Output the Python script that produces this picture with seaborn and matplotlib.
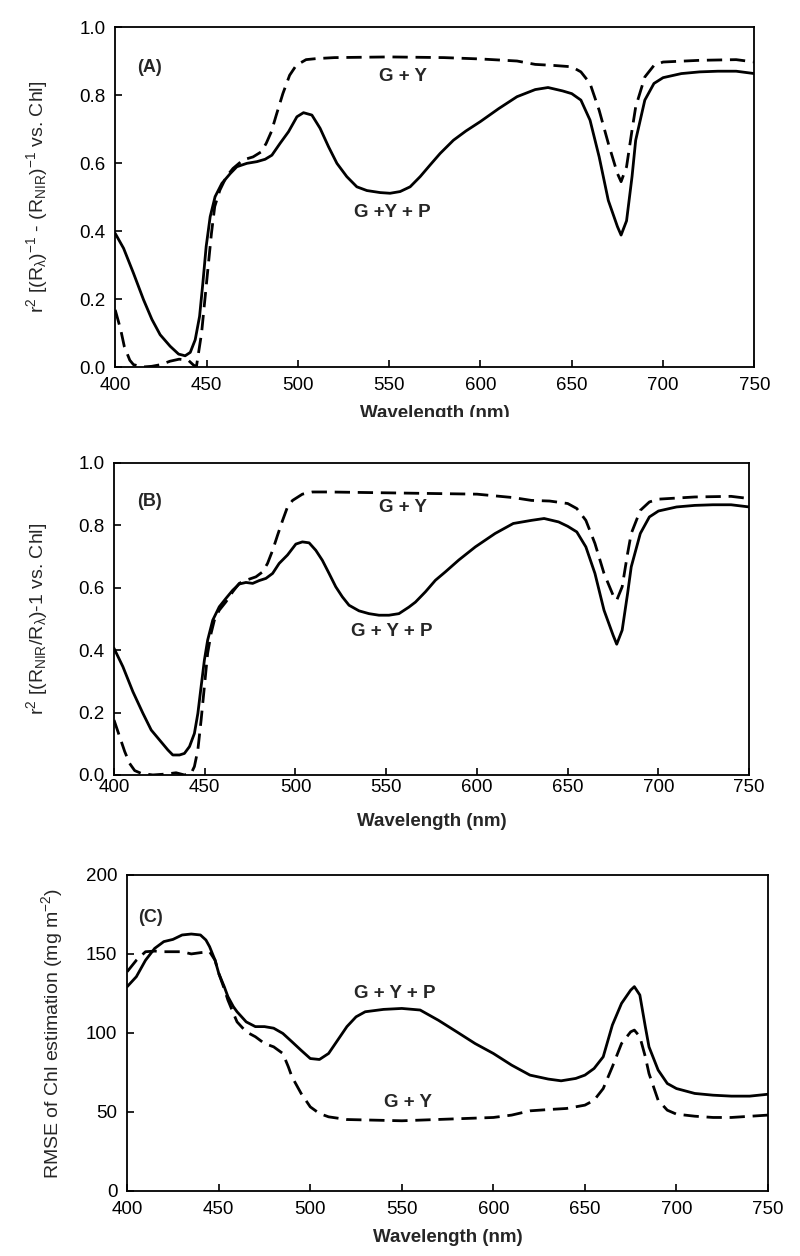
import numpy as np
import pandas as pd
import matplotlib
matplotlib.use("Agg")
import matplotlib.pyplot as plt
from matplotlib.transforms import Bbox, TransformedBbox
import seaborn as sns

# ---- data ----
# Panel A: r2 of (R_lambda)^-1 - (R_NIR)^-1 vs Chl
wl_a_gyp = [400, 404.6, 410, 415.5, 420.1, 424.6, 430.1, 434.7, 438.3, 441.1, 443.8, 446.2, 448,
            449.8, 452, 454.7, 458.4, 463, 466.6, 472.1, 477.6, 482.1, 485.8, 490.3, 494.9, 499.5,
            503.1, 507.7, 512.2, 516.8, 521.4, 526.8, 532.3, 537.8, 545.1, 550.5, 556, 561.5, 567,
            572.4, 577.9, 585.2, 592, 600, 610, 620, 630, 637, 645, 650, 655, 660, 665, 670, 675,
            677, 680, 683, 685, 690, 695, 700, 710, 720, 730, 740, 750]
r2_a_gyp = [.393, .349, .276, .198, .14, .095, .061, .038, .033, .043, .08, .149, .247,
            .354, .442, .501, .54, .569, .589, .599, .604, .611, .623, .658, .692, .736,
            .748, .741, .702, .648, .599, .56, .53, .519, .513, .511, .516, .53, .56,
            .594, .628, .667, .694, .722, .76, .795, .816, .822, .812, .804, .785, .726, .618, .49,
            .413, .388, .43, .56, .667, .785, .834, .851, .863, .868, .87, .87, .863]
wl_a_gy = [400, 403, 405, 408, 410, 415, 420, 425, 430, 435, 440, 443, 444.5, 447.3, 449.1,
           450.9, 452.7, 454.5, 457.3, 460.9, 464.5, 470, 475.5, 480, 482.7, 485.5, 488.2,
           491.8, 495.5, 499.1, 504.5, 510, 520, 550, 580, 600, 620, 630, 640, 650, 655, 660,
           665, 670, 675, 677, 680, 683, 685, 690, 695, 700, 720, 740, 750]
r2_a_gy = [.168, .11, .06, .02, .007, 0.0, .002, .007, .017, .023, .02, .005, .002, .1, .198,
           .296, .393, .472, .52, .56, .584, .609, .618, .633, .658, .692, .741,
           .804, .858, .887, .904, .907, .91, .912, .91, .906, .9, .89, .887, .883, .868, .834,
           .755, .658, .569, .545, .589, .697, .765, .853, .887, .897, .902, .904, .897]

# Panel B: r2 of (R_NIR/R_lambda)-1 vs Chl
wl_b_gyp = [400, 404.9, 410.4, 415.9, 420.5, 425.1, 429.7, 432.4, 436.1, 438.8, 441.6, 444.3,
            446.2, 448, 449.8, 451.6, 454.4, 458, 461.7, 465.4, 469, 472.7, 476.4, 480, 483.7,
            487.4, 491, 495.6, 500.2, 503.8, 507.5, 511.2, 514.8, 518.5, 522.2, 525.8, 529.5,
            535, 540.5, 546, 551.5, 557, 562.5, 566.1, 571.6, 577.1, 582.6, 590, 599.1, 610, 620,
            630, 637, 645, 650, 655, 660, 665, 670, 675, 677, 680, 683, 685, 690, 695, 700, 710,
            720, 730, 740, 750]
r2_b_gyp = [.406, .347, .267, .198, .144, .112, .08, .064, .064, .069, .091, .133,
            .197, .283, .368, .432, .496, .539, .566, .592, .612, .617, .614, .623, .63,
            .646, .678, .705, .74, .747, .744, .72, .688, .646, .603, .571, .544,
            .526, .517, .512, .512, .517, .538, .554, .587, .624, .651, .689, .731, .774, .806,
            .816, .822, .811, .797, .779, .731, .646, .528, .448, .419, .464, .582, .667, .774,
            .827, .846, .859, .864, .866, .866, .859]
wl_b_gy = [400, 403.1, 405.9, 408.6, 411.4, 415, 421.4, 428.8, 434.2, 438.8, 442.5, 444.3,
           446.2, 448, 449.8, 451.6, 453.5, 455.3, 458, 461.7, 465.4, 469, 472.7, 478.2, 481.9,
           484.6, 487.4, 490.1, 492.9, 495.6, 498.4, 503.8, 509.3, 518.5, 600, 620, 630, 640,
           650, 655, 660, 665, 670, 675, 677, 680, 683, 685, 690, 695, 700, 720, 740, 750]
r2_b_gy = [.176, .123, .075, .037, .014, .005, 0.0, .003, .007, 0.0, .005, .027,
           .08, .176, .283, .39, .454, .496, .528, .555, .587, .614, .624, .635, .651,
           .678, .72, .768, .816, .859, .88, .9, .907, .907, .9, .889, .88, .878,
           .87, .854, .816, .742, .646, .576, .56, .603, .71, .774, .848, .875, .884, .891, .893, .886]

# Panel C: RMSE of Chl estimation (mg m-2)
wl_c_gyp = [400, 405, 410, 415, 420, 425, 430, 435, 440, 443, 445, 448, 450, 453, 455, 458, 460,
            465, 470, 475, 480, 485, 490, 495, 500, 505, 510, 515, 520, 525, 530, 540, 550, 560,
            570, 580, 590, 600, 610, 620, 630, 637, 645, 650, 655, 660, 665, 670, 675, 677, 680,
            683, 685, 690, 695, 700, 710, 720, 730, 740, 750]
rmse_c_gyp = [129.3, 135.6, 146, 153.5, 157.8, 159.2, 162, 162.6, 162, 158.8, 154.6, 146, 137.7,
              129.3, 123, 116.6, 113.4, 107, 104, 104, 103, 99.7, 94.4, 89, 83.8, 83.2, 87, 95.5,
              104, 110.2, 113.4, 114.9, 115.5, 114.5, 108, 100.7, 93.3, 87, 79.6, 73.3, 70.8,
              69.7, 71.2, 73.3, 77.5, 84.9, 105, 118.7, 127.1, 129.3, 124, 103.9, 91.2, 76.5, 68,
              64.8, 61.7, 60.6, 60, 60, 61.2]
wl_c_gy = [400, 405, 410, 415, 420, 430, 435, 440, 445, 448, 450, 453, 455, 458, 460, 465, 470,
           475, 480, 485, 488, 490, 495, 500, 505, 510, 520, 550, 600, 610, 620, 630, 640, 650,
           655, 660, 665, 670, 675, 677, 680, 683, 685, 690, 695, 700, 710, 720, 730, 750]
rmse_c_gy = [138.8, 146, 151.4, 151.8, 151.4, 151.4, 150, 150.8, 151.4, 146, 137.7, 128, 120.8,
             112.4, 107, 100.7, 97.6, 93.3, 91.2, 87, 78.6, 72.2, 61.7, 53.2, 49, 46.9, 45.2,
             44.4, 46.5, 48, 50.7, 51.5, 52.2, 54.3, 57.4, 64.8, 78.6, 93.3, 100.7, 101.8, 97.6,
             84.9, 74.3, 57.4, 51.1, 48.6, 47.3, 46.5, 46.5, 48]

xticks = [400, 450, 500, 550, 600, 650, 700, 750]
r2_ticks = [0, .2, .4, .6, .8, 1.0]
r2_ticklabels = ['0.0', '0.2', '0.4', '0.6', '0.8', '1.0']
rmse_ticks = [0, 50, 100, 150, 200]

sns.set_style("ticks")
plt.rcParams['font.family'] = ['Liberation Sans', 'DejaVu Sans']
plt.rcParams['mathtext.default'] = 'regular'

fig = plt.figure(figsize=(8, 12.56), dpi=100)
ax_a = fig.add_axes([0.144, 0.7078, 0.799, 0.2707])
ax_b = fig.add_axes([0.1425, 0.383, 0.794, 0.2484])
ax_c = fig.add_axes([0.159, 0.0518, 0.801, 0.2516])

dash = (0, (5.5, 2.8))


def draw_panel(ax, wl_p, y_p, wl_g, y_g):
    df_p = pd.DataFrame({'wl': wl_p, 'val': y_p})
    df_g = pd.DataFrame({'wl': wl_g, 'val': y_g})
    sns.lineplot(data=df_p, x='wl', y='val', ax=ax, color='black', lw=2.0, errorbar=None)
    sns.lineplot(data=df_g, x='wl', y='val', ax=ax, color='black', lw=2.0, errorbar=None,
                 linestyle=dash)
    ax.set_xlim(400, 750)
    ax.set_xticks(xticks)
    for s in ax.spines.values():
        s.set_color('black')
        s.set_linewidth(1.3)
    ax.tick_params(direction='in', length=5, width=1.2, labelsize=13.5, colors='black')
    ax.set_xlabel('Wavelength (nm)', fontsize=13.5, fontweight='bold')


# ---- (A) ----
draw_panel(ax_a, wl_a_gyp, r2_a_gyp, wl_a_gy, r2_a_gy)
ax_a.set_ylim(0, 1.0)
ax_a.set_yticks(r2_ticks)
ax_a.set_yticklabels(r2_ticklabels)
ax_a.tick_params(axis='x', pad=7)
ax_a.tick_params(axis='y', pad=7)
ax_a.xaxis.labelpad = 8
ax_a.set_ylabel(r'r$^2$ [(R$_\lambda$)$^{-1}$ - (R$_{NIR}$)$^{-1}$ vs. Chl]', fontsize=14)
ax_a.yaxis.set_label_coords(-0.102, 0.5)
ax_a.text(419, 0.88, '(A)', fontsize=13, fontweight='bold', ha='center', va='center')
ax_a.text(557.7, 0.853, 'G + Y', fontsize=13.5, fontweight='bold', ha='center', va='center')
ax_a.text(551.7, 0.455, 'G +Y + P', fontsize=13.5, fontweight='bold', ha='center', va='center')
# the A x-label is cut off at its lower half in the reference
lbl = ax_a.xaxis.label
lbl.set_clip_on(True)
lbl.set_clip_box(TransformedBbox(Bbox([[0, 1 - 417 / 1256], [1, 1]]), fig.transFigure))

# ---- (B) ----
draw_panel(ax_b, wl_b_gyp, r2_b_gyp, wl_b_gy, r2_b_gy)
ax_b.set_ylim(0, 1.0)
ax_b.set_yticks(r2_ticks)
ax_b.set_yticklabels(r2_ticklabels)
ax_b.tick_params(axis='x', pad=3)
ax_b.tick_params(axis='y', pad=7)
ax_b.xaxis.labelpad = 12
ax_b.set_ylabel(r'r$^2$ [(R$_{NIR}$/R$_\lambda$)-1 vs. Chl]', fontsize=14)
ax_b.yaxis.set_label_coords(-0.101, 0.5)
ax_b.text(419.6, 0.875, '(B)', fontsize=13, fontweight='bold', ha='center', va='center')
ax_b.text(559, 0.856, 'G + Y', fontsize=13.5, fontweight='bold', ha='center', va='center')
ax_b.text(553, 0.46, 'G + Y + P', fontsize=13.5, fontweight='bold', ha='center', va='center')

# ---- (C) ----
draw_panel(ax_c, wl_c_gyp, rmse_c_gyp, wl_c_gy, rmse_c_gy)
ax_c.set_ylim(0, 200)
ax_c.set_yticks(rmse_ticks)
ax_c.tick_params(axis='x', pad=7)
ax_c.tick_params(axis='y', pad=7)
ax_c.xaxis.labelpad = 8
ax_c.set_ylabel(r'RMSE of Chl estimation (mg m$^{-2}$)', fontsize=14)
ax_c.yaxis.set_label_coords(-0.097, 0.5)
ax_c.text(412.5, 173, '(C)', fontsize=13, fontweight='bold', ha='center', va='center')
ax_c.text(546, 124.7, 'G + Y + P', fontsize=13.5, fontweight='bold', ha='center', va='center')
ax_c.text(553.5, 55.7, 'G + Y', fontsize=13.5, fontweight='bold', ha='center', va='center')

fig.savefig('out.png', dpi=100, facecolor='white')
